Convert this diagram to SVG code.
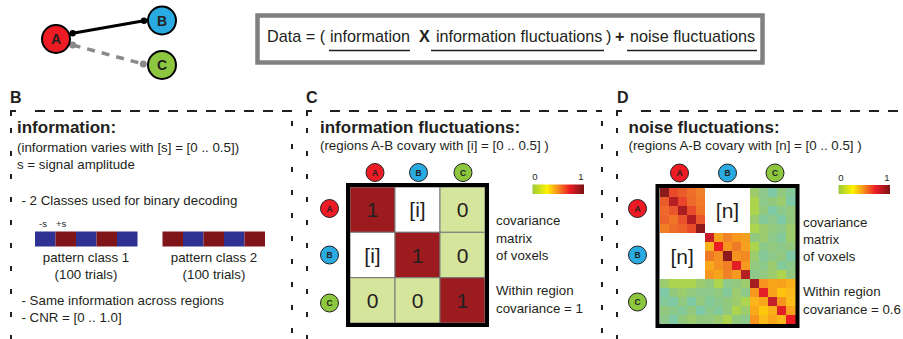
<svg xmlns="http://www.w3.org/2000/svg" width="903" height="339" viewBox="0 0 903 339">
<style>
text{font-family:"Liberation Sans",Arial,sans-serif;fill:#231f20}
.b{font-weight:bold}
.t{font-size:13.3px}
.h{font-size:17px;font-weight:bold}
.lab{font-size:16px;font-weight:bold}
.eq{font-size:16.2px}
.dh{fill:none;stroke:#231f20;stroke-width:2;stroke-dasharray:10 9}
.dv{fill:none;stroke:#231f20;stroke-width:2;stroke-dasharray:5 18}
.sc{stroke:#231f20;stroke-width:1}
.sl{font-size:8.5px;font-weight:bold;text-anchor:middle}
.big{font-size:21px;text-anchor:middle}
.cb{font-size:9.5px;text-anchor:middle}
.ul{stroke:#231f20;stroke-width:1.5}
.rA{fill:#ed1c24}.rB{fill:#29abe2}.rC{fill:#8dc63f}
.g1{fill:#8cc98a}.g2{fill:#9ccc6e}.g3{fill:#7ecaa6}.g4{fill:#add44f}.g5{fill:#93c97e}.g6{fill:#84c99a}
.blu{fill:#2e3192}.red{fill:#801519}
.cr{fill:#9b1b1f}.cg{fill:#d5e59c}.cw{fill:#ffffff}
</style>
<defs>
<linearGradient id="cbar" x1="0" x2="1" y1="0" y2="0">
<stop offset="0" stop-color="#9ccb3b"/>
<stop offset="0.28" stop-color="#fff200"/>
<stop offset="0.48" stop-color="#f7941d"/>
<stop offset="0.72" stop-color="#ed1c24"/>
<stop offset="1" stop-color="#7a1315"/>
</linearGradient>
</defs>

<!-- top-left graph -->
<g id="connectors">
<line x1="72.7" y1="33.3" x2="144" y2="20.7" stroke="#000" stroke-width="3"/>
<circle cx="72.7" cy="33.3" r="3.2" fill="#000"/>
<circle cx="144" cy="20.7" r="3.2" fill="#000"/>
<line x1="72.7" y1="45" x2="143.3" y2="64" stroke="#8a8a8a" stroke-width="3.5" stroke-dasharray="8 7"/>
<circle cx="72.7" cy="45" r="3.5" fill="#8a8a8a"/>
<circle cx="143.3" cy="64" r="3.5" fill="#8a8a8a"/>
</g>
<g id="node-A"><circle cx="56" cy="39" r="14" class="rA" stroke="#000" stroke-width="2"/><text x="56" y="44" class="b" font-size="14" text-anchor="middle">A</text></g>
<g id="node-B"><circle cx="162" cy="20.5" r="14" class="rB" stroke="#000" stroke-width="2"/><text x="162" y="25.5" class="b" font-size="14" text-anchor="middle">B</text></g>
<g id="node-C"><circle cx="162" cy="65" r="14" class="rC" stroke="#000" stroke-width="2"/><text x="162" y="70" class="b" font-size="14" text-anchor="middle">C</text></g>

<!-- equation -->
<g id="equation">
<rect x="257.5" y="15.5" width="505" height="47" fill="#fff" stroke="#808080" stroke-width="4.5"/>
<text x="267" y="42" class="eq">Data = (</text>
<text x="330" y="42" class="eq">information</text>
<text x="419" y="42" class="eq b">X</text>
<text x="436" y="42" class="eq">information fluctuations</text>
<text x="606" y="42" class="eq">)</text>
<text x="615" y="42" class="eq b">+</text>
<text x="630" y="42" class="eq">noise fluctuations</text>
<line x1="329" y1="50.5" x2="410" y2="50.5" class="ul"/>
<line x1="431" y1="50.5" x2="604" y2="50.5" class="ul"/>
<line x1="627" y1="50.5" x2="757" y2="50.5" class="ul"/>
</g>

<!-- Panel B -->
<g id="panel-B">
<text x="10" y="103" class="lab">B</text>
<path d="M11 116 V111 H16" fill="none" stroke="#231f20" stroke-width="2"/>
<line x1="35" y1="111" x2="292" y2="111" class="dh"/>
<line x1="11" y1="128" x2="11" y2="339" class="dv"/>
<line x1="292" y1="111" x2="292" y2="339" class="dv" stroke-dashoffset="-10"/>
<text x="17" y="133" class="h">information:</text>
<text x="17" y="151.5" class="t">(information varies with [s] = [0 .. 0.5])</text>
<text x="17" y="168.5" class="t">s = signal amplitude</text>
<text x="21.5" y="205" class="t">- 2 Classes used for binary decoding</text>
<text x="39" y="226.5" font-size="9.5">-s</text>
<text x="56" y="226.5" font-size="9.5">+s</text>
<rect x="35" y="231.5" width="20.5" height="15" class="blu"/>
<rect x="55.5" y="231.5" width="20.5" height="15" class="red"/>
<rect x="76" y="231.5" width="20.5" height="15" class="blu"/>
<rect x="96.5" y="231.5" width="20.5" height="15" class="red"/>
<rect x="117" y="231.5" width="20.5" height="15" class="blu"/>
<rect x="162.5" y="231.5" width="20.5" height="15" class="red"/>
<rect x="183" y="231.5" width="20.5" height="15" class="blu"/>
<rect x="203.5" y="231.5" width="20.5" height="15" class="red"/>
<rect x="224" y="231.5" width="20.5" height="15" class="blu"/>
<rect x="244.5" y="231.5" width="20.5" height="15" class="red"/>
<text x="86" y="261.5" class="t" text-anchor="middle">pattern class 1</text>
<text x="86" y="278.5" class="t" text-anchor="middle">(100 trials)</text>
<text x="214" y="261.5" class="t" text-anchor="middle">pattern class 2</text>
<text x="214" y="278.5" class="t" text-anchor="middle">(100 trials)</text>
<text x="21.5" y="305" class="t">- Same information across regions</text>
<text x="21.5" y="321.5" class="t">- CNR = [0 .. 1.0]</text>
</g>

<!-- Panel C -->
<g id="panel-C">
<text x="306" y="103" class="lab">C</text>
<path d="M307 116 V111 H312" fill="none" stroke="#231f20" stroke-width="2"/>
<line x1="330" y1="111" x2="602" y2="111" class="dh"/>
<line x1="307" y1="128" x2="307" y2="339" class="dv"/>
<line x1="602" y1="111" x2="602" y2="339" class="dv" stroke-dashoffset="-10"/>
<text x="320" y="132.5" class="h">information fluctuations:</text>
<text x="320" y="150" class="t">(regions A-B covary with [i] = [0 .. 0.5] )</text>
<circle cx="375" cy="172.5" r="9" class="rA sc"/><text x="375" y="175.5" class="sl">A</text>
<circle cx="418.5" cy="172.5" r="9" class="rB sc"/><text x="418.5" y="175.5" class="sl">B</text>
<circle cx="463" cy="172.5" r="9" class="rC sc"/><text x="463" y="175.5" class="sl">C</text>
<circle cx="329.5" cy="208.5" r="9" class="rA sc"/><text x="329.5" y="211.5" class="sl">A</text>
<circle cx="329.5" cy="255" r="9" class="rB sc"/><text x="329.5" y="258" class="sl">B</text>
<circle cx="329.5" cy="303" r="9" class="rC sc"/><text x="329.5" y="306" class="sl">C</text>
<g stroke="#777" stroke-width="1">
<rect x="350" y="187" width="45" height="45.3" class="cr"/>
<rect x="395" y="187" width="45" height="45.3" class="cw"/>
<rect x="440" y="187" width="45" height="45.3" class="cg"/>
<rect x="350" y="232.3" width="45" height="45.3" class="cw"/>
<rect x="395" y="232.3" width="45" height="45.3" class="cr"/>
<rect x="440" y="232.3" width="45" height="45.3" class="cg"/>
<rect x="350" y="277.7" width="45" height="45.3" class="cg"/>
<rect x="395" y="277.7" width="45" height="45.3" class="cg"/>
<rect x="440" y="277.7" width="45" height="45.3" class="cr"/>
</g>
<rect x="348" y="185" width="139" height="140" fill="none" stroke="#000" stroke-width="4"/>
<text x="372.5" y="217" class="big">1</text>
<text x="417.5" y="217" class="big">[i]</text>
<text x="462.5" y="217" class="big">0</text>
<text x="372.5" y="262.5" class="big">[i]</text>
<text x="417.5" y="262.5" class="big">1</text>
<text x="462.5" y="262.5" class="big">0</text>
<text x="372.5" y="308" class="big">0</text>
<text x="417.5" y="308" class="big">0</text>
<text x="462.5" y="308" class="big">1</text>
<rect x="532.5" y="184.5" width="51.5" height="9.5" fill="url(#cbar)"/>
<text x="535" y="180" class="cb">0</text>
<text x="581" y="180" class="cb">1</text>
<text x="496" y="225" class="t">covariance</text>
<text x="496" y="242.5" class="t">matrix</text>
<text x="496" y="260" class="t">of voxels</text>
<text x="496" y="295" class="t">Within region</text>
<text x="496" y="312.5" class="t">covariance = 1</text>
</g>

<!-- Panel D -->
<g id="panel-D">
<text x="617" y="103" class="lab">D</text>
<path d="M617 116 V111 H622" fill="none" stroke="#231f20" stroke-width="2"/>
<line x1="641" y1="111" x2="903" y2="111" class="dh"/>
<line x1="617" y1="128" x2="617" y2="339" class="dv"/>
<text x="628.5" y="132.5" class="h">noise fluctuations:</text>
<text x="628.5" y="150" class="t">(regions A-B covary with [n] = [0 .. 0.5] )</text>
<circle cx="679.5" cy="173" r="9" class="rA sc"/><text x="679.5" y="176" class="sl">A</text>
<circle cx="727.5" cy="173" r="9" class="rB sc"/><text x="727.5" y="176" class="sl">B</text>
<circle cx="775" cy="173" r="9" class="rC sc"/><text x="775" y="176" class="sl">C</text>
<circle cx="637.5" cy="208.5" r="9" class="rA sc"/><text x="637.5" y="211.5" class="sl">A</text>
<circle cx="637.5" cy="255" r="9" class="rB sc"/><text x="637.5" y="258" class="sl">B</text>
<circle cx="637.5" cy="302" r="9" class="rC sc"/><text x="637.5" y="305" class="sl">C</text>
<rect x="659.5" y="188" width="136" height="136" fill="#fff"/>
<g transform="translate(659.5 188) scale(9.0667)" shape-rendering="crispEdges">
<rect x="0" y="0" width="1" height="1" fill="#8b1a1a"/><rect x="1" y="0" width="1" height="1" fill="#e84a2a"/><rect x="2" y="0" width="1" height="1" fill="#e95d2b"/><rect x="3" y="0" width="1" height="1" fill="#ef6e2a"/><rect x="4" y="0" width="1" height="1" fill="#f0802a"/>
<rect x="10" y="0" width="1" height="1" class="g2"/><rect x="11" y="0" width="1" height="1" class="g1"/><rect x="12" y="0" width="1" height="1" class="g3"/><rect x="13" y="0" width="1" height="1" class="g5"/><rect x="14" y="0" width="1" height="1" class="g6"/>
<rect x="0" y="1" width="1" height="1" fill="#ea5a2b"/><rect x="1" y="1" width="1" height="1" fill="#b51f24"/><rect x="2" y="1" width="1" height="1" fill="#e8452b"/><rect x="3" y="1" width="1" height="1" fill="#ee6a2b"/><rect x="4" y="1" width="1" height="1" fill="#f07a28"/>
<rect x="10" y="1" width="1" height="1" class="g4"/><rect x="11" y="1" width="1" height="1" class="g1"/><rect x="12" y="1" width="1" height="1" class="g5"/><rect x="13" y="1" width="1" height="1" class="g2"/><rect x="14" y="1" width="1" height="1" class="g3"/>
<rect x="0" y="2" width="1" height="1" fill="#ef6a2a"/><rect x="1" y="2" width="1" height="1" fill="#e9562b"/><rect x="2" y="2" width="1" height="1" fill="#a81c22"/><rect x="3" y="2" width="1" height="1" fill="#e84a2a"/><rect x="4" y="2" width="1" height="1" fill="#ef7428"/>
<rect x="10" y="2" width="1" height="1" class="g4"/><rect x="11" y="2" width="1" height="1" class="g5"/><rect x="12" y="2" width="1" height="1" class="g3"/><rect x="13" y="2" width="1" height="1" class="g1"/><rect x="14" y="2" width="1" height="1" class="g5"/>
<rect x="0" y="3" width="1" height="1" fill="#ec642a"/><rect x="1" y="3" width="1" height="1" fill="#f07428"/><rect x="2" y="3" width="1" height="1" fill="#e9522b"/><rect x="3" y="3" width="1" height="1" fill="#b31e24"/><rect x="4" y="3" width="1" height="1" fill="#e9572b"/>
<rect x="10" y="3" width="1" height="1" class="g2"/><rect x="11" y="3" width="1" height="1" class="g6"/><rect x="12" y="3" width="1" height="1" class="g1"/><rect x="13" y="3" width="1" height="1" class="g3"/><rect x="14" y="3" width="1" height="1" class="g5"/>
<rect x="0" y="4" width="1" height="1" fill="#f07f26"/><rect x="1" y="4" width="1" height="1" fill="#ee6c2a"/><rect x="2" y="4" width="1" height="1" fill="#ec6229"/><rect x="3" y="4" width="1" height="1" fill="#e84c2b"/><rect x="4" y="4" width="1" height="1" fill="#8e1a1c"/>
<rect x="10" y="4" width="1" height="1" class="g4"/><rect x="11" y="4" width="1" height="1" class="g2"/><rect x="12" y="4" width="1" height="1" class="g5"/><rect x="13" y="4" width="1" height="1" class="g1"/><rect x="14" y="4" width="1" height="1" class="g2"/>
<rect x="5" y="5" width="1" height="1" fill="#c8202a"/><rect x="6" y="5" width="1" height="1" fill="#f7a21c"/><rect x="7" y="5" width="1" height="1" fill="#f1842a"/><rect x="8" y="5" width="1" height="1" fill="#f6981e"/><rect x="9" y="5" width="1" height="1" fill="#f3a020"/>
<rect x="10" y="5" width="1" height="1" class="g5"/><rect x="11" y="5" width="1" height="1" class="g2"/><rect x="12" y="5" width="1" height="1" class="g1"/><rect x="13" y="5" width="1" height="1" class="g6"/><rect x="14" y="5" width="1" height="1" class="g2"/>
<rect x="5" y="6" width="1" height="1" fill="#f9b21c"/><rect x="6" y="6" width="1" height="1" fill="#ed1c24"/><rect x="7" y="6" width="1" height="1" fill="#f7941d"/><rect x="8" y="6" width="1" height="1" fill="#ef7b26"/><rect x="9" y="6" width="1" height="1" fill="#f5a01e"/>
<rect x="10" y="6" width="1" height="1" class="g4"/><rect x="11" y="6" width="1" height="1" class="g1"/><rect x="12" y="6" width="1" height="1" class="g5"/><rect x="13" y="6" width="1" height="1" class="g1"/><rect x="14" y="6" width="1" height="1" class="g5"/>
<rect x="5" y="7" width="1" height="1" fill="#ee7a27"/><rect x="6" y="7" width="1" height="1" fill="#f48e22"/><rect x="7" y="7" width="1" height="1" fill="#8e1a1c"/><rect x="8" y="7" width="1" height="1" fill="#f49320"/><rect x="9" y="7" width="1" height="1" fill="#f18a24"/>
<rect x="10" y="7" width="1" height="1" class="g2"/><rect x="11" y="7" width="1" height="1" class="g6"/><rect x="12" y="7" width="1" height="1" class="g1"/><rect x="13" y="7" width="1" height="1" class="g5"/><rect x="14" y="7" width="1" height="1" class="g3"/>
<rect x="5" y="8" width="1" height="1" fill="#f9a81d"/><rect x="6" y="8" width="1" height="1" fill="#f39022"/><rect x="7" y="8" width="1" height="1" fill="#ef7e26"/><rect x="8" y="8" width="1" height="1" fill="#e21e26"/><rect x="9" y="8" width="1" height="1" fill="#f7981f"/>
<rect x="10" y="8" width="1" height="1" class="g5"/><rect x="11" y="8" width="1" height="1" class="g1"/><rect x="12" y="8" width="1" height="1" class="g2"/><rect x="13" y="8" width="1" height="1" class="g6"/><rect x="14" y="8" width="1" height="1" class="g1"/>
<rect x="5" y="9" width="1" height="1" fill="#f5971f"/><rect x="6" y="9" width="1" height="1" fill="#f7a41d"/><rect x="7" y="9" width="1" height="1" fill="#ef8226"/><rect x="8" y="9" width="1" height="1" fill="#f49a20"/><rect x="9" y="9" width="1" height="1" fill="#b51f24"/>
<rect x="10" y="9" width="1" height="1" class="g1"/><rect x="11" y="9" width="1" height="1" class="g5"/><rect x="12" y="9" width="1" height="1" class="g2"/><rect x="13" y="9" width="1" height="1" class="g4"/><rect x="14" y="9" width="1" height="1" class="g5"/>
<rect x="0" y="10" width="1" height="1" class="g2"/><rect x="1" y="10" width="1" height="1" class="g4"/><rect x="2" y="10" width="1" height="1" class="g4"/><rect x="3" y="10" width="1" height="1" class="g4"/><rect x="4" y="10" width="1" height="1" class="g2"/><rect x="5" y="10" width="1" height="1" class="g5"/><rect x="6" y="10" width="1" height="1" class="g4"/><rect x="7" y="10" width="1" height="1" class="g1"/><rect x="8" y="10" width="1" height="1" class="g5"/><rect x="9" y="10" width="1" height="1" class="g2"/>
<rect x="10" y="10" width="1" height="1" fill="#a51d21"/><rect x="11" y="10" width="1" height="1" fill="#f7941d"/><rect x="12" y="10" width="1" height="1" fill="#f9a51a"/><rect x="13" y="10" width="1" height="1" fill="#f8a01b"/><rect x="14" y="10" width="1" height="1" fill="#fbb01a"/>
<rect x="0" y="11" width="1" height="1" class="g3"/><rect x="1" y="11" width="1" height="1" class="g5"/><rect x="2" y="11" width="1" height="1" class="g2"/><rect x="3" y="11" width="1" height="1" class="g5"/><rect x="4" y="11" width="1" height="1" class="g1"/><rect x="5" y="11" width="1" height="1" class="g1"/><rect x="6" y="11" width="1" height="1" class="g5"/><rect x="7" y="11" width="1" height="1" class="g6"/><rect x="8" y="11" width="1" height="1" class="g2"/><rect x="9" y="11" width="1" height="1" class="g1"/>
<rect x="10" y="11" width="1" height="1" fill="#f7981c"/><rect x="11" y="11" width="1" height="1" fill="#e21e26"/><rect x="12" y="11" width="1" height="1" fill="#f9a11b"/><rect x="13" y="11" width="1" height="1" fill="#fdc30f"/><rect x="14" y="11" width="1" height="1" fill="#fbb91b"/>
<rect x="0" y="12" width="1" height="1" class="g6"/><rect x="1" y="12" width="1" height="1" class="g3"/><rect x="2" y="12" width="1" height="1" class="g5"/><rect x="3" y="12" width="1" height="1" class="g3"/><rect x="4" y="12" width="1" height="1" class="g5"/><rect x="5" y="12" width="1" height="1" class="g6"/><rect x="6" y="12" width="1" height="1" class="g1"/><rect x="7" y="12" width="1" height="1" class="g5"/><rect x="8" y="12" width="1" height="1" class="g2"/><rect x="9" y="12" width="1" height="1" class="g4"/>
<rect x="10" y="12" width="1" height="1" fill="#fbb41a"/><rect x="11" y="12" width="1" height="1" fill="#f9a51a"/><rect x="12" y="12" width="1" height="1" fill="#c4202a"/><rect x="13" y="12" width="1" height="1" fill="#f7941d"/><rect x="14" y="12" width="1" height="1" fill="#fbbd18"/>
<rect x="0" y="13" width="1" height="1" class="g5"/><rect x="1" y="13" width="1" height="1" class="g1"/><rect x="2" y="13" width="1" height="1" class="g6"/><rect x="3" y="13" width="1" height="1" class="g5"/><rect x="4" y="13" width="1" height="1" class="g3"/><rect x="5" y="13" width="1" height="1" class="g1"/><rect x="6" y="13" width="1" height="1" class="g6"/><rect x="7" y="13" width="1" height="1" class="g5"/><rect x="8" y="13" width="1" height="1" class="g4"/><rect x="9" y="13" width="1" height="1" class="g2"/>
<rect x="10" y="13" width="1" height="1" fill="#f9a81a"/><rect x="11" y="13" width="1" height="1" fill="#fdc70c"/><rect x="12" y="13" width="1" height="1" fill="#fbb01a"/><rect x="13" y="13" width="1" height="1" fill="#e01f26"/><rect x="14" y="13" width="1" height="1" fill="#f9a21b"/>
<rect x="0" y="14" width="1" height="1" class="g1"/><rect x="1" y="14" width="1" height="1" class="g3"/><rect x="2" y="14" width="1" height="1" class="g5"/><rect x="3" y="14" width="1" height="1" class="g2"/><rect x="4" y="14" width="1" height="1" class="g5"/><rect x="5" y="14" width="1" height="1" class="g5"/><rect x="6" y="14" width="1" height="1" class="g2"/><rect x="7" y="14" width="1" height="1" class="g4"/><rect x="8" y="14" width="1" height="1" class="g5"/><rect x="9" y="14" width="1" height="1" class="g1"/>
<rect x="10" y="14" width="1" height="1" fill="#f7941d"/><rect x="11" y="14" width="1" height="1" fill="#fbbb19"/><rect x="12" y="14" width="1" height="1" fill="#f9a61a"/><rect x="13" y="14" width="1" height="1" fill="#fbb71a"/><rect x="14" y="14" width="1" height="1" fill="#ed1c24"/>
</g>
<rect x="657.5" y="186" width="140" height="140" fill="none" stroke="#000" stroke-width="4"/>
<text x="727.5" y="218" class="big">[n]</text>
<text x="682.2" y="263.5" class="big">[n]</text>
<rect x="838.5" y="185" width="51.5" height="9" fill="url(#cbar)"/>
<text x="841" y="180.5" class="cb">0</text>
<text x="887" y="180.5" class="cb">1</text>
<text x="803" y="226.5" class="t">covariance</text>
<text x="803" y="243.5" class="t">matrix</text>
<text x="803" y="260.5" class="t">of voxels</text>
<text x="803" y="296" class="t">Within region</text>
<text x="803" y="313.5" class="t">covariance = 0.6</text>
</g>
</svg>
